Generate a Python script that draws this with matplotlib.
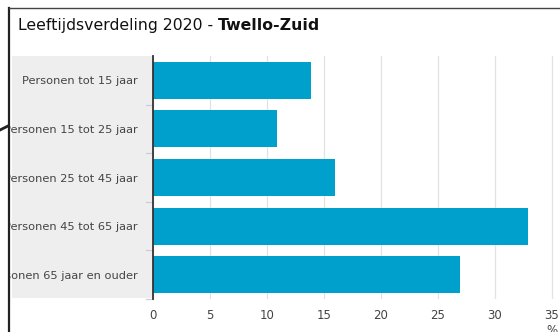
import matplotlib
matplotlib.use("Agg")
import matplotlib.pyplot as plt
from matplotlib.patches import Rectangle
from matplotlib.lines import Line2D

categories = ["Personen tot 15 jaar", "Personen 15 tot 25 jaar", "Personen 25 tot 45 jaar",
              "Personen 45 tot 65 jaar", "Personen 65 jaar en ouder"]
values = [13.9, 10.9, 16.0, 32.9, 26.9]
xticks = [0, 5, 10, 15, 20, 25, 30, 35]

W, H = 560, 332
fig = plt.figure(figsize=(W / 100, H / 100), dpi=100)
fig.patch.set_facecolor("white")

def fx(px):
    return px / W

def fy(py):
    return 1 - py / H

ax_l, ax_r, ax_t, ax_b = 153, 560, 56, 299
ax = fig.add_axes([fx(ax_l), fy(ax_b), fx(ax_r - ax_l), (ax_b - ax_t) / H])
ax.set_facecolor("white")

# gray label background
fig.patches.append(Rectangle((fx(12), fy(298)), fx(152 - 12), (298 - 56) / H,
                             transform=fig.transFigure, facecolor="#eeeeee",
                             edgecolor="none", zorder=-1))

ypos = list(range(len(categories)))
ax.barh(ypos, values, height=0.76, color="#00a0cc", zorder=3)
ax.set_ylim(len(categories) - 0.5, -0.5)
ax.set_xlim(0, (ax_r - ax_l) / 11.4)
ax.set_xticks(xticks)
ax.set_xticklabels([str(t) for t in xticks], fontsize=8.5, color="#444444")
ax.tick_params(axis="x", length=0, pad=7)
ax.set_yticks(ypos)
ax.set_yticklabels(categories, fontsize=8.2, color="#444444")
ax.tick_params(axis="y", length=0, pad=11)
ax.xaxis.grid(True, color="#e2e2e2", linewidth=0.9, zorder=0)
for b in [0.5, 1.5, 2.5, 3.5, 4.5]:
    ax.plot([-0.6, 0], [b, b], color="#ccccdd", lw=0.9, clip_on=False, zorder=2)
for s in ["top", "right", "bottom"]:
    ax.spines[s].set_visible(False)
ax.spines["left"].set_color("#333333")
ax.spines["left"].set_linewidth(1.3)
ax.spines["left"].set_zorder(5)

# "%" unit label below axis end
fig.text(fx(552), fy(334), "%", fontsize=8.5, color="#444444", ha="center", va="baseline")

# title
t1 = fig.text(fx(18), fy(30), "Leeftijdsverdeling 2020 - ", fontsize=11.3, color="#111111",
              ha="left", va="baseline")
fig.canvas.draw()
bb = t1.get_window_extent()
fig.text(bb.x1 / W, fy(30), "Twello-Zuid", fontsize=11.3, fontweight="bold",
         color="#111111", ha="left", va="baseline")

# mask left edge and draw frame
fig.patches.append(Rectangle((0, 0), fx(8), 1, transform=fig.transFigure,
                             facecolor="white", edgecolor="none", zorder=10))
fig.lines.append(Line2D([fx(8.5), fx(8.5)], [0, fy(8)], transform=fig.transFigure,
                        color="#222222", lw=1.6, zorder=11))
fig.lines.append(Line2D([fx(8.5), 1], [fy(8), fy(8)], transform=fig.transFigure,
                        color="#444444", lw=1.0, zorder=11))
fig.lines.append(Line2D([fx(0), fx(8)], [fy(130), fy(126)], transform=fig.transFigure,
                        color="#222222", lw=2.0, zorder=11))

fig.savefig("out.png", dpi=100)
